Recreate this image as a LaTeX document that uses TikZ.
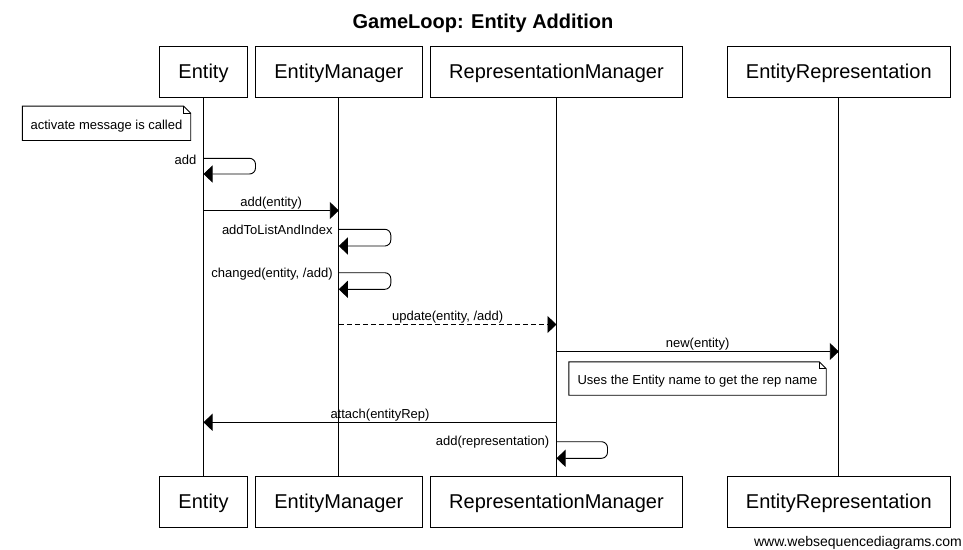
\documentclass[tikz,border=0pt]{standalone}
\usepackage{fontspec}
\setmainfont{Liberation Sans}
\usetikzlibrary{arrows.meta,calc}
\begin{document}
\begin{tikzpicture}[x=1pt,y=-1pt,
  actor/.style={draw, line width=0.9pt, minimum height=51pt, inner sep=0pt, font=\fontsize{20}{24}\selectfont},
  lifeline/.style={line width=0.9pt},
  msg/.style={line width=0.9pt, -{Triangle[length=9pt,width=17pt]}},
  dmsg/.style={msg, dash pattern=on 5pt off 3pt},
  selfmsg/.style={msg, rounded corners=6pt},
  lbl/.style={font=\fontsize{13}{15}\selectfont, inner sep=0pt, anchor=base},
  slbl/.style={font=\fontsize{13}{15}\selectfont, inner sep=0pt, anchor=base east},
  notetext/.style={font=\fontsize{13}{15}\selectfont, inner sep=0pt},
  notebox/.style={line width=0.9pt, fill=white},
  albl/.style={font=\fontsize{20}{24}\selectfont, inner sep=0pt},
]
\useasboundingbox (0,0) rectangle (963,549);

% title
\node[font=\bfseries\fontsize{20}{24}\selectfont] (title) at (483,23.5) {GameLoop: Entity Addition};

% actor boxes (top)
\node[actor, minimum width=88pt]  (eT)  at (203.5,72) {};
\node[actor, minimum width=167pt] (emT) at (338.8,72) {};
\node[actor, minimum width=252pt] (rmT) at (556.5,72) {};
\node[actor, minimum width=223pt] (erT) at (838.8,72) {};
\node[albl] (eTt)  at ([yshift=-1.5pt]eT.center)  {Entity};
\node[albl] (emTt) at ([yshift=-1.5pt]emT.center) {EntityManager};
\node[albl] (rmTt) at ([yshift=-1.5pt]rmT.center) {RepresentationManager};
\node[albl] (erTt) at ([yshift=-1.5pt]erT.center) {EntityRepresentation};
% actor boxes (bottom)
\node[actor, minimum width=88pt]  (eB)  at (203.5,501.5) {};
\node[actor, minimum width=167pt] (emB) at (338.8,501.5) {};
\node[actor, minimum width=252pt] (rmB) at (556.5,501.5) {};
\node[actor, minimum width=223pt] (erB) at (838.8,501.5) {};
\node[albl] (eBt)  at ([yshift=-1.5pt]eB.center)  {Entity};
\node[albl] (emBt) at ([yshift=-1.5pt]emB.center) {EntityManager};
\node[albl] (rmBt) at ([yshift=-1.5pt]rmB.center) {RepresentationManager};
\node[albl] (erBt) at ([yshift=-1.5pt]erB.center) {EntityRepresentation};

% lifelines
\draw[lifeline] (eT.south)  -- (eB.north);
\draw[lifeline] (emT.south) -- (emB.north);
\draw[lifeline] (rmT.south) -- (rmB.north);
\draw[lifeline] (erT.south) -- (erB.north);

% note 1
\node[notetext, minimum width=168pt, minimum height=34pt] (n1) at (106.5,123.3) {};
\draw[notebox] (n1.north west) -- ([xshift=-7pt]n1.north east) -- ([yshift=-7pt]n1.north east) -- (n1.south east) -- (n1.south west) -- cycle;
\draw[line width=0.9pt] ([xshift=-7pt]n1.north east) -- ([xshift=-7pt,yshift=-7pt]n1.north east) -- ([yshift=-7pt]n1.north east);
\node[notetext] (n1t) at ([yshift=-2.5pt]n1.center) {activate message is called};

% self message: add
\coordinate (s1a) at (eT.south |- 0,158.3);
\coordinate (s1b) at (eT.south |- 0,174);
\draw[selfmsg] (s1a) -- ++(52,0) |- (s1b);
\node[slbl] (s1l) at ([xshift=-7pt,yshift=-6pt]s1a) {add};

% add(entity)
\coordinate (m1a) at (eT.south |- 0,210.5);
\coordinate (m1b) at (emT.south |- 0,210.5);
\draw[msg] (m1a) -- (m1b);
\node[lbl] (m1l) at ([yshift=4pt]$(m1a)!0.5!(m1b)$) {add(entity)};

% addToListAndIndex
\coordinate (s2a) at (emT.south |- 0,229.3);
\coordinate (s2b) at (emT.south |- 0,246);
\draw[selfmsg] (s2a) -- ++(52,0) |- (s2b);
\node[slbl] (s2l) at ([xshift=-6pt,yshift=-5pt]s2a) {addToListAndIndex};

% changed(entity, /add)
\coordinate (s3a) at (emT.south |- 0,272.7);
\coordinate (s3b) at (emT.south |- 0,289.3);
\draw[selfmsg] (s3a) -- ++(52,0) |- (s3b);
\node[slbl] (s3l) at ([xshift=-6pt,yshift=-4.5pt]s3a) {changed(entity, /add)};

% update(entity, /add)
\coordinate (m2a) at (emT.south |- 0,324.5);
\coordinate (m2b) at (rmT.south |- 0,324.5);
\draw[dmsg] (m2a) -- (m2b);
\node[lbl] (m2l) at ([yshift=4pt]$(m2a)!0.5!(m2b)$) {update(entity, /add)};

% new(entity)
\coordinate (m3a) at (rmT.south |- 0,351.5);
\coordinate (m3b) at (erT.south |- 0,351.5);
\draw[msg] (m3a) -- (m3b);
\node[lbl] (m3l) at ([yshift=4pt]$(m3a)!0.5!(m3b)$) {new(entity)};

% note 2
\node[notetext, minimum width=257pt, minimum height=33pt] (n2) at (697.5,378.5) {};
\draw[notebox] (n2.north west) -- ([xshift=-7pt]n2.north east) -- ([yshift=-7pt]n2.north east) -- (n2.south east) -- (n2.south west) -- cycle;
\draw[line width=0.9pt] ([xshift=-7pt]n2.north east) -- ([xshift=-7pt,yshift=-7pt]n2.north east) -- ([yshift=-7pt]n2.north east);
\node[notetext] (n2t) at ([yshift=-2.5pt]n2.center) {Uses the Entity name to get the rep name};

% attach(entityRep)
\coordinate (m4a) at (rmT.south |- 0,422.3);
\coordinate (m4b) at (eT.south |- 0,422.3);
\draw[msg] (m4a) -- (m4b);
\node[lbl] (m4l) at ([yshift=4pt]$(m4a)!0.5!(m4b)$) {attach(entityRep)};

% add(representation)
\coordinate (s4a) at (rmT.south |- 0,441.7);
\coordinate (s4b) at (rmT.south |- 0,458.3);
\draw[selfmsg] (s4a) -- ++(51,0) |- (s4b);
\node[slbl] (s4l) at ([xshift=-7pt,yshift=-4pt]s4a) {add(representation)};

% footer
\node[font=\fontsize{14}{16}\selectfont, inner sep=0pt, anchor=base east] (foot) at (962,546) {www.websequencediagrams.com};
\end{tikzpicture}
\end{document}
